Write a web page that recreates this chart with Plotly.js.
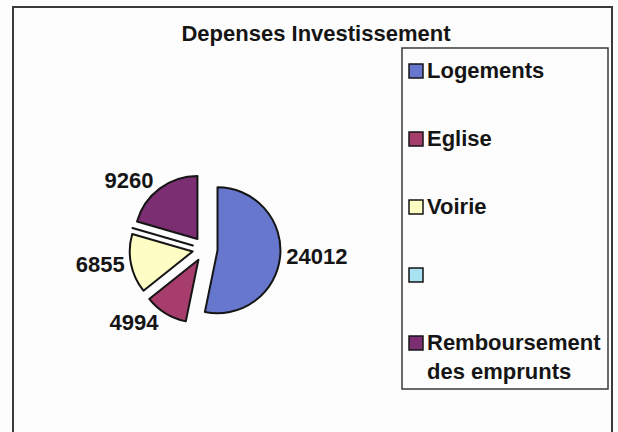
<!DOCTYPE html>
<html>
<head>
<meta charset="utf-8">
<script src="https://cdn.plot.ly/plotly-3.0.1.min.js"></script>
<style>
  html, body { margin: 0; padding: 0; background: #fdfdfd; }
  #chart { width: 618px; height: 432px; }
</style>
</head>
<body>
<div id="chart"></div>
<script>
// Data
const categories = ['Logements', 'Eglise', 'Voirie', '', 'Remboursement<br>des emprunts'];
const values = [24012, 4994, 6855, 0, 9260];
const colors = ['#6677cd', '#a63d6c', '#fefec4', '#a9e2f3', '#7b2f72'];

const W = 618, H = 432;
const FONT = 'Liberation Sans, Arial, sans-serif';

// helpers to go from pixel positions to paper coords
const px = x => x / W;
const py = y => 1 - y / H;

function createChart() {
    const trace = {
        type: 'pie',
        labels: categories,
        values: values,
        sort: false,
        direction: 'clockwise',
        rotation: 0,
        pull: values.map(() => 0.2),
        marker: {
            colors: colors,
            line: { color: '#151515', width: 2 }
        },
        text: values.map(v => v ? '<b>' + v + '</b>' : ''),
        textinfo: 'text',
        textposition: 'outside',
        outsidetextfont: { family: FONT, size: 22, color: '#151515' },
        hoverinfo: 'label+value',
        showlegend: false,
        domain: { x: [px(129.5), px(280.5)], y: [py(324.5), py(173.5)] }
    };

    // hand-built legend box (evenly spaced entries like the original)
    const shapes = [
        // outer chart frame
        { type: 'rect', xref: 'paper', yref: 'paper', x0: px(13), x1: px(612), y0: py(7), y1: py(445),
          line: { color: '#3a3a3a', width: 2 }, fillcolor: 'rgba(0,0,0,0)' },
        // legend frame
        { type: 'rect', xref: 'paper', yref: 'paper', x0: px(402), x1: px(608), y0: py(48), y1: py(389),
          line: { color: '#3a3a3a', width: 1.5 }, fillcolor: 'rgba(0,0,0,0)' }
    ];
    const annotations = [];
    const top = 71, step = 68;
    categories.forEach((c, i) => {
        const cy = top + i * step;
        shapes.push({
            type: 'rect', xref: 'paper', yref: 'paper',
            x0: px(409), x1: px(423), y0: py(cy - 7), y1: py(cy + 7),
            fillcolor: colors[i], line: { color: '#151515', width: 1.5 }
        });
        if (c) {
            annotations.push({
                xref: 'paper', yref: 'paper',
                x: px(425), y: py(cy - 15),
                xanchor: 'left', yanchor: 'top', align: 'left',
                showarrow: false,
                text: '<b>' + c + '</b>',
                font: { family: FONT, size: 22, color: '#151515' }
            });
        }
    });

    const layout = {
        width: W,
        height: H,
        margin: { l: 0, r: 0, t: 0, b: 0 },
        paper_bgcolor: '#fdfdfd',
        title: {
            text: '<b>Depenses Investissement</b>',
            x: px(316), xanchor: 'center', xref: 'paper',
            y: py(33), yanchor: 'middle', yref: 'paper',
            font: { family: FONT, size: 22, color: '#151515' }
        },
        shapes: shapes,
        annotations: annotations
    };

    Plotly.newPlot('chart', [trace], layout, { displayModeBar: false });
}

window.onload = createChart;
</script>
</body>
</html>
